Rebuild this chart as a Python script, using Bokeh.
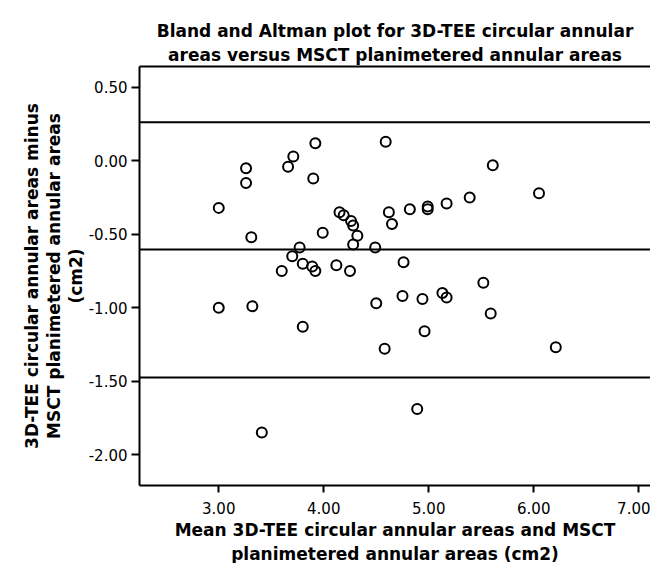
from bokeh.plotting import figure
from bokeh.models import (Range1d, FixedTicker, NumeralTickFormatter, Span, Title,
                          LinearAxis)
from bokeh.embed import file_html
from bokeh.resources import INLINE

# Mean of the two methods (cm2)
mean_area = [3.92, 4.59, 3.71, 3.26, 3.66, 5.61, 3.26, 3.90, 6.05, 3.00,
             5.39, 5.17, 4.99, 4.99, 4.82, 4.62, 4.65, 4.15, 4.19, 4.26,
             4.28, 4.32, 4.28, 3.99, 3.31, 4.49, 3.77, 3.70, 3.80, 3.89,
             3.92, 3.60, 4.12, 4.25, 4.76, 5.52, 3.00, 3.32, 3.80, 4.50,
             4.75, 4.94, 5.13, 5.17, 5.59, 4.96, 4.58, 6.21, 4.89, 3.41]
# Difference 3D-TEE minus MSCT (cm2)
diff_area = [0.12, 0.13, 0.03, -0.05, -0.04, -0.03, -0.15, -0.12, -0.22, -0.32,
             -0.25, -0.29, -0.31, -0.33, -0.33, -0.35, -0.43, -0.35, -0.37, -0.41,
             -0.44, -0.51, -0.57, -0.49, -0.52, -0.59, -0.59, -0.65, -0.70, -0.72,
             -0.75, -0.75, -0.71, -0.75, -0.69, -0.83, -1.00, -0.99, -1.13, -0.97,
             -0.92, -0.94, -0.90, -0.93, -1.04, -1.16, -1.28, -1.27, -1.69, -1.85]
# Upper limit of agreement, mean difference, lower limit of agreement
limits = [0.264, -0.604, -1.475]

x_ticks = [3, 4, 5, 6, 7]
y_ticks = [-2.0, -1.5, -1.0, -0.5, 0.0, 0.5]

title_lines = ["Bland and Altman plot for 3D-TEE circular annular",
               "areas versus MSCT planimetered annular areas"]
x_label_lines = ["Mean 3D-TEE circular annular areas and MSCT",
                 "planimetered annular areas (cm2)"]
y_label_lines = ["3D-TEE circular annular areas minus",
                 "MSCT planimetered annular areas",
                 "(cm2)"]

FONT = "DejaVu Sans"

p = figure(width=650, height=563, output_backend="svg", toolbar_location=None,
           title_location=None,
           x_range=Range1d(2.245, 7.112), y_range=Range1d(-2.211, 0.643),
           min_border_left=139, min_border_right=0, min_border_top=66,
           min_border_bottom=78)

p.background_fill_color = "white"
p.border_fill_color = "white"
p.outline_line_color = None
p.xgrid.visible = False
p.ygrid.visible = False

x_axis = p.below[0]
y_axis = p.left[0]

# top border of the frame (no ticks, no labels)
top_axis = LinearAxis(ticker=FixedTicker(ticks=[]), axis_line_color="black",
                      axis_line_width=2, major_tick_line_color=None,
                      minor_tick_line_color=None, major_tick_out=0,
                      major_label_standoff=0, major_label_text_font_size="0px")
p.add_layout(top_axis, "above")

for ax in (x_axis, y_axis):
    ax.axis_line_color = "black"
    ax.axis_line_width = 2
    ax.major_tick_line_color = "black"
    ax.major_tick_line_width = 2
    ax.major_tick_out = 8
    ax.major_tick_in = 0
    ax.minor_tick_line_color = None
    ax.major_label_text_font = FONT
    ax.major_label_text_font_size = "15px"
    ax.major_label_text_color = "black"
    ax.formatter = NumeralTickFormatter(format="0.00")

x_axis.ticker = FixedTicker(ticks=x_ticks)
y_axis.ticker = FixedTicker(ticks=y_ticks)
x_axis.major_tick_out = 7
x_axis.major_label_standoff = 9
y_axis.major_label_standoff = 4


def make_title(txt, standoff):
    return Title(text=txt, align="center", text_font=FONT, text_font_size="17px",
                 text_font_style="bold", text_color="black", standoff=standoff,
                 offset=0)


# title: line 2 nearest the frame
p.add_layout(make_title(title_lines[1], 4), "above")
p.add_layout(make_title(title_lines[0], 0), "above")
# x-axis label: line 1 nearest the axis
p.add_layout(make_title(x_label_lines[0], 3), "below")
p.add_layout(make_title(x_label_lines[1], 0), "below")
# y-axis label: last line nearest the axis
p.add_layout(make_title(y_label_lines[2], 0), "left")
p.add_layout(make_title(y_label_lines[1], 0), "left")
p.add_layout(make_title(y_label_lines[0], 0), "left")

for lv in limits:
    p.add_layout(Span(location=lv, dimension="width", line_color="black", line_width=2))

p.scatter(mean_area, diff_area, marker="circle", size=10, fill_color=None,
          line_color="black", line_width=2)

open("out.html", "w").write(file_html(p, INLINE))
